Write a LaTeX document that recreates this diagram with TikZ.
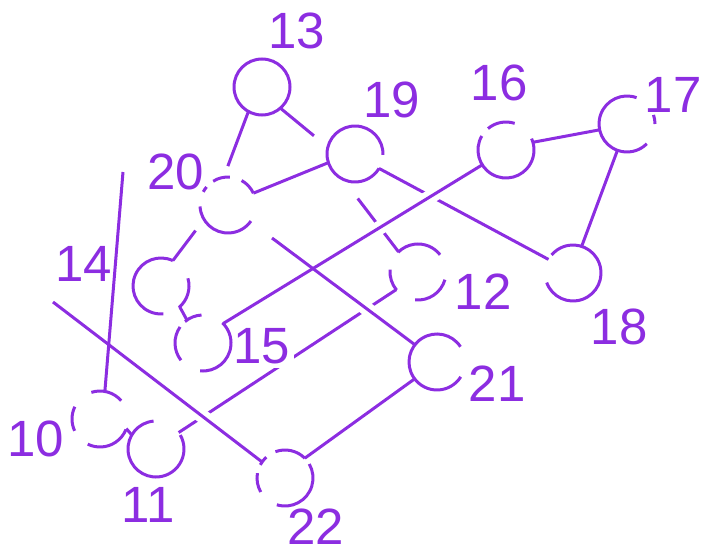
\documentclass[tikz,border=0pt]{standalone}
\usepackage{fontspec}
\setmainfont{Liberation Sans}
\usepackage{tikz}
\definecolor{lilac}{RGB}{140,45,225}

\begin{document}
\begin{tikzpicture}[
    x=1pt, y=1pt,
    spot/.style={circle, minimum size=56pt, inner sep=0pt, outer sep=0pt},
    ring/.style={draw=lilac, line width=3pt},
    link/.style={draw=lilac, line width=3pt},
    over/.style={preaction={draw=white, line width=14pt, #1}},
    num/.style={text=lilac, inner sep=1pt, font=\fontsize{51}{51}\selectfont}
  ]
    \useasboundingbox (0,0) rectangle (703,558);

    \node[spot] (n13) at (262,471) {};
    \node[spot] (n19) at (355,404) {};
    \node[spot] (n20) at (228,353) {};
    \node[spot] (n16) at (506,408) {};
    \node[spot] (n17) at (627,434) {};
    \node[spot] (n18) at (573,285) {};
    \node[spot] (n12) at (418,286) {};
    \node[spot] (n21) at (437,196) {};
    \node[spot] (n22) at (285,80) {};
    \node[spot] (n11) at (156,109) {};
    \node[spot] (n10) at (100,139) {};
    \node[spot] (n15) at (203,215) {};
    \node[spot] (n14) at (161,272) {};
    \coordinate (top10) at (123,386);
    \coordinate (top22) at (53,256);

    % connectors that pass under others
    \draw[link] (n19.-31) -- (n18.151);
    \draw[link, shorten <=24pt] (n19.245) -- (n12.134);
    \draw[link] (n12.219) -- (n11.36);
    \draw[link] (n10.80) -- (top10);
    \draw[link, shorten >=12pt] (n13.241) -- (n20.99);
    \draw[link, shorten >=18pt] (n13.311) -- (n19.166);
    \draw[link] (n20.25) -- (n19.198);
    \draw[link] (n16.16) -- (n17.192);
    \draw[link] (n17.250) -- (n18.72);
    \draw[link, shorten <=14pt] (n20.211) -- (n14.65);
    \draw[link] (n14.-48) -- (n15.125);
    \draw[link] (n22.45) -- (n21.217);
    \draw[link] (n10.-20) -- (n11.150);

    % connectors on top
    \draw[link, over={shorten >=150pt}] (n16.212) -- (n15.44);
    \draw[link, shorten <=27pt, over={shorten <=110pt}] (n20.-37) -- (n21.142);
    \draw[link, over={shorten <=130pt}] (top22) -- (n22.145);

    \node[num] (l13) at (297,527) {13};
    \node[num] (l19) at (392,458) {19};
    \node[num] (l16) at (499,475) {16};
    \node[num] (l17) at (673,463) {17};
    \node[num] (l20) at (176,386) {20};
    \node[num] (l14) at (84,294) {14};
    \node[num] (l12) at (483,266) {12};
    \node[num] (l18) at (619,231) {18};
    \node[num] (l21) at (497,174) {21};
    \node[num, fill=white, inner sep=4pt] (l15) at (262,212) {15};
    \node[num] (l10) at (36,119) {10};
    \node[num] (l11) at (148,53) {11};
    \node[num] (l22) at (316,31) {22};

    % broken rings
    \foreach \n/\a/\b in {n13/0/360, n19/-2/329,
        n20/25/61, n20/86/122, n20/140/152, n20/183/325,
        n16/72/130, n16/150/384, n17/70/315, n17/0/19, n18/200/500,
        n12/38/135, n12/175/220, n12/264/344, n21/33/328,
        n22/45/110, n22/132/152, n22/170/210, n22/-107/30,
        n11/95/390, n10/41/108, n10/154/205, n10/244/338,
        n15/93/130, n15/145/218, n15/-96/46, n14/65/275, n14/-50/16}
      \draw[ring] (\n.\a) arc[start angle=\a, end angle=\b, radius=28pt];
\end{tikzpicture}
\end{document}
